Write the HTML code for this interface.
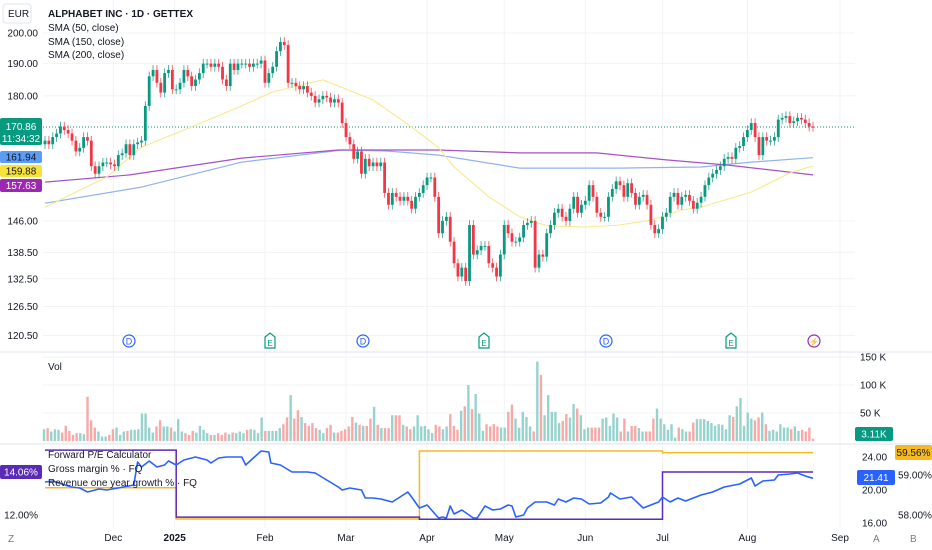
<!DOCTYPE html>
<html><head><meta charset="utf-8">
<style>
html,body{margin:0;padding:0;background:#fff;}
body{width:932px;height:550px;overflow:hidden;position:relative;font-family:"Liberation Sans",sans-serif;color:#131722;}
svg{position:absolute;left:0;top:0;}
text{font-family:"Liberation Sans",sans-serif;}
</style></head>
<body>
<svg id="chart" width="932" height="550" viewBox="0 0 932 550">
  <g id="grid"></g>
  <g id="sma"></g>
  <g id="candles"></g>
  <g id="vol"></g>
  <g id="lower"></g>
  <g id="axes"></g>
</svg>
<script>
// ---- data ----
const closes=[167,166,168,169,171,170,169,167,164,165,168,167,160,158,160,161,161,160.5,160,163,163.5,166,163,166,166.5,167,177,186,188,184,181,187,188,182,182,184,188,186,183,185,187,190,190,189,190,189,185,183,190,188,190,190,190,189,190,190,191,184,187,189,194,197,196,184,184,183,182,183,181,180,178,179,180,179.5,178,179,178,172,168,166,162,164,158,162,160,161,160,161,153,150,153,152,151,152,151,149,152,153,155,157,157,152,143,146,147,141,136,133,135,132,145,138,139,140,140,136,135,133,138,145,143,141,141,142,145,145.5,146,135,138,137.5,143,145,148,149,147,146,149,152,148,150,151,155,152,148,147,147,152,154,156,155,152,155.5,153,150,152,152.5,150,145,143,144,147,148,152,153,150,152,152.5,151,149,150.5,152,155,157,158,159,160,162,162.5,162,165,165.5,168,170,172,168,163,168,167,167,168,173,173.5,174,172,172.5,173.5,173,172,171,170.86];
const firstOpen=166;
const volumes=[21,23,17,21,20,15,27,18,11,14,14,12,79,37,24,17,8,8,11,21,24,11,17,18,20,20,21,49,49,24,15,26,37,26,26,24,17,39,17,14,11,18,15,27,20,14,11,11,14,11,15,12,15,14,17,14,20,21,20,14,42,18,18,18,18,23,30,42,82,40,55,43,32,27,32,23,20,14,23,29,15,15,18,21,26,43,33,29,27,27,40,61,29,23,23,23,46,46,46,29,26,21,26,46,26,27,21,14,29,26,21,26,
48,27,20,54,62,100,57,84,49,18,30,26,30,26,24,24,52,65,40,24,52,43,26,17,142,118,46,82,52,52,32,36,48,42,66,58,46,21,24,24,24,24,40,42,27,49,42,17,40,17,27,27,23,17,17,17,40,58,40,30,20,30,6,24,21,17,17,33,39,39,39,36,32,27,30,29,21,46,43,62,77,27,51,40,37,42,51,30,18,20,17,30,24,24,21,26,18,20,17,24,4];
const sma50Idx=[0,16,25,38,51,59,72,85,95,102,106,115,123,130,140,149,157,165,170,183,193,199];
const sma50Val=[149.4,157.1,165.2,170.9,177.0,181.2,184.9,178.8,170.9,165.0,159.8,152.0,147.0,144.8,144.5,145.0,146.2,148.7,149.4,153.2,158.2,160.1];
const sma150Idx=[0,25,51,77,89,102,123,149,170,183,199];
const sma150Val=[150.4,154.5,161.1,164.4,164.1,163.0,159.5,159.5,159.8,161.1,162.3];
const sma200Idx=[0,22,51,76,89,102,123,143,161,177,199];
const sma200Val=[155.8,157.7,162.2,164.4,164.4,164.4,163.6,163.6,161.7,160.3,157.7];
const peIdx=[0,2,6,7,9,11,14,16,19,23,24,25,27,29,31,32,34,36,39,42,43,45,47,51,52,54,56,58,58.5,61,64,68,70,73,76,77,79,82,83,85,87,90,94,95,97,99,102,103,104,105,106,108,111,112,114,116,118,120,121,122,124,125,127,130,132,133,135,137,139,141,144,146,146.5,149,152,155,159,160,162,164,166,170,173,176,180,183,184,186,189,190,193,195,197,199];
const peVal=[20.96,21.08,20.48,20.36,20.24,19.76,20.12,20,20.24,20.6,23.37,22.77,23.49,22.77,23.01,23.49,23.01,23.61,23.98,23.61,23.25,23.86,23.98,23.98,23.01,23.86,24.70,24.58,23.25,23.01,22.17,22.17,22.05,21.2,20.36,20,20.24,20,19.04,19.04,18.92,18.55,19.76,19.16,17.83,18.19,16.63,16.75,16.63,18.07,17.11,17.59,16.63,16.63,18.07,17.59,17.71,18.19,18.07,16.75,16.99,17.83,18.55,18.55,18.19,18.92,18.55,19.04,18.92,18.31,18.43,19.16,19.64,18.92,19.16,17.83,18.55,19.16,18.55,19.04,18.67,19.4,19.76,20.36,20.72,21.45,20.48,21.08,21.2,21.81,21.93,22.05,21.69,21.41];
const stepIdx=[0,34,97,160,199];
const gmVal=[58.68,57.9,59.6,59.56];
const rgVal=[15.11,11.9,11.8,14.06];
const priceTicks=[200,190,180,146,138.5,132.5,126.5,120.5];
const volTicks=[150,100,50];
const peTicks=[24,20,16];
const gmTicks=[59,58];
const monthLabels=["Dec","2025","Feb","Mar","Apr","May","Jun","Jul","Aug","Sep"];
const monthIdx=[17.7,33.6,57,78,99,119,140,160,182,206];

// ---- scales ----
const N=closes.length;
const X0=45,X1=813;
function xAt(i){return X0+i*(X1-X0)/(N-1);}
function yP(p){return 33+597*Math.log(200/p);}
function yV(v){return 441-v*28/50;}
function yPE(v){return 490-(v-20)*8.3;}
function yGM(v){return 475-(v-59)*40;}
function yRG(v){return 472-(v-14.06)*20.9;}
const NS="http://www.w3.org/2000/svg";
function mk(tag,attrs,parent){const e=document.createElementNS(NS,tag);for(const k in attrs)e.setAttribute(k,attrs[k]);parent.appendChild(e);return e;}
const G=id=>document.getElementById(id);

// grid
const grid=G('grid');
priceTicks.forEach(p=>{const l=mk('line',{x1:43,x2:855,y1:yP(p),y2:yP(p),stroke:'#f2f3f6','stroke-width':1},grid);

});
monthIdx.forEach(i=>{const l=mk('line',{x1:xAt(i),x2:xAt(i),y1:0,y2:528,stroke:'#f2f3f6','stroke-width':1},grid);

});
volTicks.forEach(v=>{const l=mk('line',{x1:43,x2:855,y1:yV(v),y2:yV(v),stroke:'#f2f3f6'},grid);

});
[352,444].forEach(y=>{const l=mk('line',{x1:0,x2:932,y1:y,y2:y,stroke:'#e0e3eb'},grid);

});
const lastLine=mk('line',{x1:43,x2:855,y1:yP(closes[N-1]),y2:yP(closes[N-1]),stroke:'#089981','stroke-dasharray':'1 2','stroke-width':1},grid);



// SMA
function smaPath(idx,val,color,name,w){
  let d=idx.map((i,k)=>(k?'L':'M')+xAt(i).toFixed(1)+' '+yP(val[k]).toFixed(1)).join(' ');
  const p=mk('path',{d:d,fill:'none',stroke:color,'stroke-width':w,'stroke-linejoin':'round'},G('sma'));
  
  
}
smaPath(sma150Idx,sma150Val,'#8fb3ee','sma-150-line',1.2);
smaPath(sma200Idx,sma200Val,'#a652c2','sma-200-line',1.2);
smaPath(sma50Idx,sma50Val,'#f7e98a','sma-50-line',1.1);

// candles
const cg=G('candles');
const dirs=[];
closes.forEach((c,i)=>{
  const o=i?closes[i-1]:firstOpen;
  const up=c>=o;dirs.push(up);
  const col=up?'#089981':'#f23645';
  const x=xAt(i);
  const hi=Math.max(o,c)*1.008,lo=Math.min(o,c)*0.992;
  const w=mk('line',{x1:x,x2:x,y1:yP(hi),y2:yP(lo),stroke:col,'stroke-width':0.9,'stroke-opacity':0.8},cg);
  
  
  const yt=yP(Math.max(o,c)),yb=yP(Math.min(o,c));
  const b=mk('rect',{x:x-1.4,y:yt,width:2.8,height:Math.max(1,yb-yt),fill:col},cg);
  
  
});

// volume
const vg=G('vol');
const NV=volumes.length;
volumes.forEach((v,i)=>{
  const x=44+i*(813-44)/(NV-1);
  const ci=Math.round(i*(N-1)/(NV-1));
  const r=mk('rect',{x:x-1.2,y:yV(v),width:2.4,height:441-yV(v),fill:dirs[ci]?'#97d3cd':'#f7a9a8'},vg);
  
  
});

// lower pane
const lg=G('lower');
function stepPath(vals,fy,color,name){
  let d='';
  vals.forEach((v,k)=>{const xa=xAt(stepIdx[k]),xb=xAt(stepIdx[k+1]);d+=(k?'L':'M')+xa.toFixed(1)+' '+fy(v).toFixed(1)+' L'+xb.toFixed(1)+' '+fy(v).toFixed(1)+' ';});
  const p=mk('path',{d:d,fill:'none',stroke:color,'stroke-width':1.5},lg);
  
  
}
stepPath(gmVal,yGM,'#f5b922','gross-margin-line');
stepPath(rgVal,yRG,'#5b2bb5','revenue-growth-line');
{
  let d=peIdx.map((i,k)=>(k?'L':'M')+xAt(i).toFixed(1)+' '+yPE(peVal[k]).toFixed(1)).join(' ');
  const p=mk('path',{d:d,fill:'none',stroke:'#2962ff','stroke-width':1.6,'stroke-linejoin':'round'},lg);
  
  
}

// axes labels
const ag=G('axes');
function txt(x,y,s,opts,name,inter){
  const t=mk('text',Object.assign({x:x,y:y,'font-size':10,fill:'#131722'},opts||{}),ag);
  t.textContent=s;
  
  
  return t;
}
function badge(x,y,w,h,bg,s,fg,name,fs){
  const r=mk('rect',{x:x,y:y,width:w,height:h,fill:bg,rx:2},ag);
  
  
  txt(x+w/2,y+h/2+3.5,s,{'text-anchor':'middle',fill:fg,'font-size':fs||10},name,false);
}
priceTicks.forEach(p=>txt(38,yP(p)+3.5,p.toFixed(2),{'text-anchor':'end'},'price-tick-label'));
volTicks.forEach(v=>txt(860,yV(v)+3.5,v+' K',{},'volume-tick-label'));
peTicks.forEach(v=>txt(862,yPE(v)+3.5,v.toFixed(2),{},'pe-tick-label'));
gmTicks.forEach(v=>txt(898,yGM(v)+3.5,v.toFixed(2)+'%',{},'margin-tick-label'));
txt(38,yRG(12)+3.5,'12.00%',{'text-anchor':'end'},'growth-tick-label');
monthLabels.forEach((m,k)=>txt(xAt(monthIdx[k]),541,m,{'text-anchor':'middle','font-weight':m==='2025'?'bold':'normal'},'time-axis-label'));
txt(8,542,'Z',{fill:'#787b86'},'log-scale-toggle',true);
txt(873,542,'A',{fill:'#787b86'},'auto-scale-toggle',true);
txt(910,542,'B',{fill:'#787b86'},'scale-b-toggle',true);

// badges
badge(0,118,42,27,'#089981','','#fff','last-price-badge');
txt(21,130,'170.86',{'text-anchor':'middle',fill:'#fff','font-size':10},'last-price-value');
txt(21,142,'11:34:32',{'text-anchor':'middle',fill:'#fff','font-size':10},'bar-countdown');
badge(0,151,42,12,'#5b9cf6','161.94','#131722','sma-150-badge');
badge(0,165,42,12,'#f7e23c','159.88','#131722','sma-50-badge');
badge(0,179,42,13,'#9c27b0','157.63','#fff','sma-200-badge');
badge(0,465,42,14,'#5b2bb5','14.06%','#fff','growth-badge');
badge(855,427,38,14,'#089981','3.11K','#fff','volume-badge');
badge(857,470,38,15,'#2962ff','21.41','#fff','pe-badge');
badge(895,445,37,15,'#f5b922','59.56%','#131722','margin-badge');

// legends
const eb=mk('rect',{x:3,y:4,width:28,height:19,fill:'#fff',stroke:'#e0e3eb',rx:3},ag);


txt(8,17,'EUR',{},'currency-label',true);
txt(48,17,'ALPHABET INC · 1D · GETTEX',{'font-weight':'bold','font-size':10},'chart-title');
txt(48,31,'SMA (50, close)',{},'legend-sma-50',true);
txt(48,45,'SMA (150, close)',{},'legend-sma-150',true);
txt(48,58,'SMA (200, close)',{},'legend-sma-200',true);
txt(48,370,'Vol',{},'legend-volume',true);
txt(48,458,'Forward P/E Calculator',{},'legend-forward-pe',true);
txt(48,472,'Gross margin % · FQ',{},'legend-gross-margin',true);
txt(48,486,'Revenue one year growth % · FQ',{},'legend-revenue-growth',true);

// event markers
const evX=[129,363,606],evE=[270,484,731];
evX.forEach(x=>{const c=mk('circle',{cx:x,cy:341,r:6,fill:'#fff',stroke:'#2962ff','stroke-width':1.2},ag);


txt(x,344.5,'D',{'text-anchor':'middle',fill:'#2962ff','font-size':9},'dividend-marker-label');});
evE.forEach(x=>{const p=mk('path',{d:`M${x-5} ${337} L${x} ${333} L${x+5} ${337} L${x+5} ${348} L${x-5} ${348} Z`,fill:'#fff',stroke:'#089981','stroke-width':1.2},ag);


txt(x,346,'E',{'text-anchor':'middle',fill:'#089981','font-size':8},'earnings-marker-label');});
const lc=mk('circle',{cx:814,cy:341,r:6,fill:'#fff',stroke:'#9c27b0','stroke-width':1.2},ag);


txt(814,344.5,'⚡',{'text-anchor':'middle',fill:'#9c27b0','font-size':8},'upcoming-event-icon');
</script>
</body></html>
